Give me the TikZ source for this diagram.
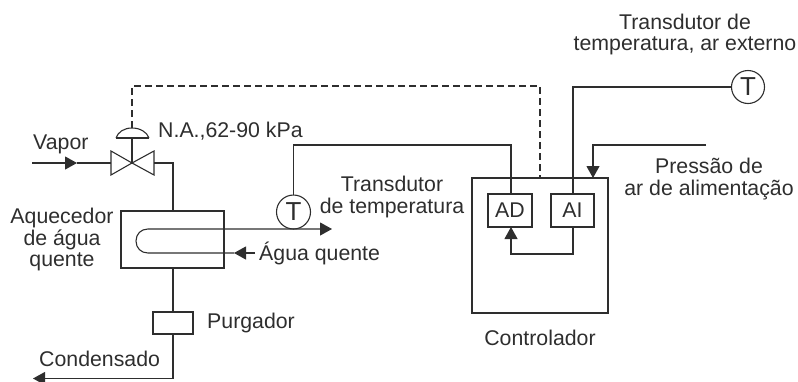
\documentclass[tikz,border=0pt]{standalone}
\usepackage{fontspec}
\setmainfont{Liberation Sans}
\usetikzlibrary{arrows.meta}
\definecolor{ink}{HTML}{2E2E2E}
\tikzset{
  line/.style={draw=ink,line width=1.1pt,line cap=butt,line join=miter},
  flow/.style={line,-{Triangle[length=12pt,width=13pt,color=ink]}},
  dashline/.style={line,dash pattern=on 7pt off 4pt},
  box/.style={draw=ink,line width=1.1pt,inner sep=0pt,outer sep=0pt,fill=none},
  label/.style={text=ink,inner sep=0pt,font=\fontsize{21.3}{21.5}\selectfont,align=center},
  sensor/.style={draw=ink,line width=1.1pt,circle,inner sep=0pt,outer sep=0pt,text=ink,font=\fontsize{26}{26}\selectfont},
}
\begin{document}
\begin{tikzpicture}[x=1pt,y=-1pt]
\useasboundingbox (0,0) rectangle (798,381);
% equipment
\node[box,minimum width=103pt,minimum height=57pt] (heater) at (172.5,239.5) {};
\node[box,minimum width=40pt,minimum height=22pt] (trap) at (173,323) {};
\node[box,minimum width=136pt,minimum height=135pt] (ctrl) at (540,245.5) {};
\node[box,minimum width=44pt,minimum height=33pt,text=ink,font=\fontsize{21.3}{21}\selectfont] (ad) at (510,210.5) {AD};
\node[box,minimum width=43pt,minimum height=33pt,text=ink,font=\fontsize{21.3}{21}\selectfont] (ai) at (572.5,210.5) {AI};
\node[sensor,minimum size=34pt] (t1) at (293.5,212) {T};
\node[sensor,minimum size=33pt] (t2) at (748,87) {T};
% valve
\coordinate (vc) at (132,163);
\coordinate (vl) at (111,163);
\coordinate (vr) at (154,163);
\coordinate (acb) at (132,138);
\coordinate (act) at (132,128);
\draw[line] (vc) -- (111,151) -- (111,175) -- cycle;
\draw[line] (vc) -- (154,151) -- (154,175) -- cycle;
\draw[line] (116,138) -- (149,138);
\draw[line] (116,138) .. controls (118,132) and (124,128) .. (act) .. controls (140,128) and (147,132) .. (149,138);
\draw[line] (acb) -- (vc);
% steam
\coordinate (vaporin) at (32,163);
\coordinate (vapormid) at (77,163);
\draw[flow] (vaporin) -- (vapormid);
\draw[line] (vapormid) -- (vl);
\draw[line] (vr) -- (173,163) -- (173,211);
\draw[line] (173,268) -- (trap.north);
\coordinate (condout) at (33,378.5);
\draw[flow] (trap.south) -- (173,378.5) -- (condout);
% dashed signal
\draw[dashline] (act) -- (132,86) -- (540,86) -- (540,178);
% U tube
\coordinate (hotout) at (332,229);
\coordinate (hotin) at (255,253);
\coordinate (hotmid) at (234,253);
\draw[flow] (hotin) -- (hotmid);
\draw[flow] (hotmid) -- (148,253) .. controls (141,253) and (136,248) .. (136,241) .. controls (136,234) and (141,229) .. (148,229) -- (hotout);
% signals
\draw[line] (t1.north) -- (293.5,145) -- (511,145) -- (511,194);
\draw[line] (t2.west) -- (573,87) -- (573,194);
\coordinate (airin) at (706,145);
\draw[flow] (airin) -- (593,145) -- (593,178);
\draw[flow] (573,227) -- (573,254) -- (511,254) -- (511,227);
% labels
\node[label] (l1) at (685,34.5) {Transdutor de\\temperatura, ar externo};
\node[label] (l2) at (709,179) {Pressão de\\ar de alimentação};
\node[label] (l3) at (540,338) {Controlador};
\node[label] (l4) at (392,197) {Transdutor\\de temperatura};
\node[label,anchor=west] (l5) at (33,144.5) {Vapor};
\node[label,anchor=west] (l6) at (158,131) {N.A.,62-90 kPa};
\node[label] (l7) at (62,239.5) {Aquecedor\\de água\\quente};
\node[label,anchor=west] (l8) at (259,253) {Água quente};
\node[label,anchor=west] (l9) at (207,323) {Purgador};
\node[label,anchor=west] (l10) at (39,359) {Condensado};
\end{tikzpicture}
\end{document}
